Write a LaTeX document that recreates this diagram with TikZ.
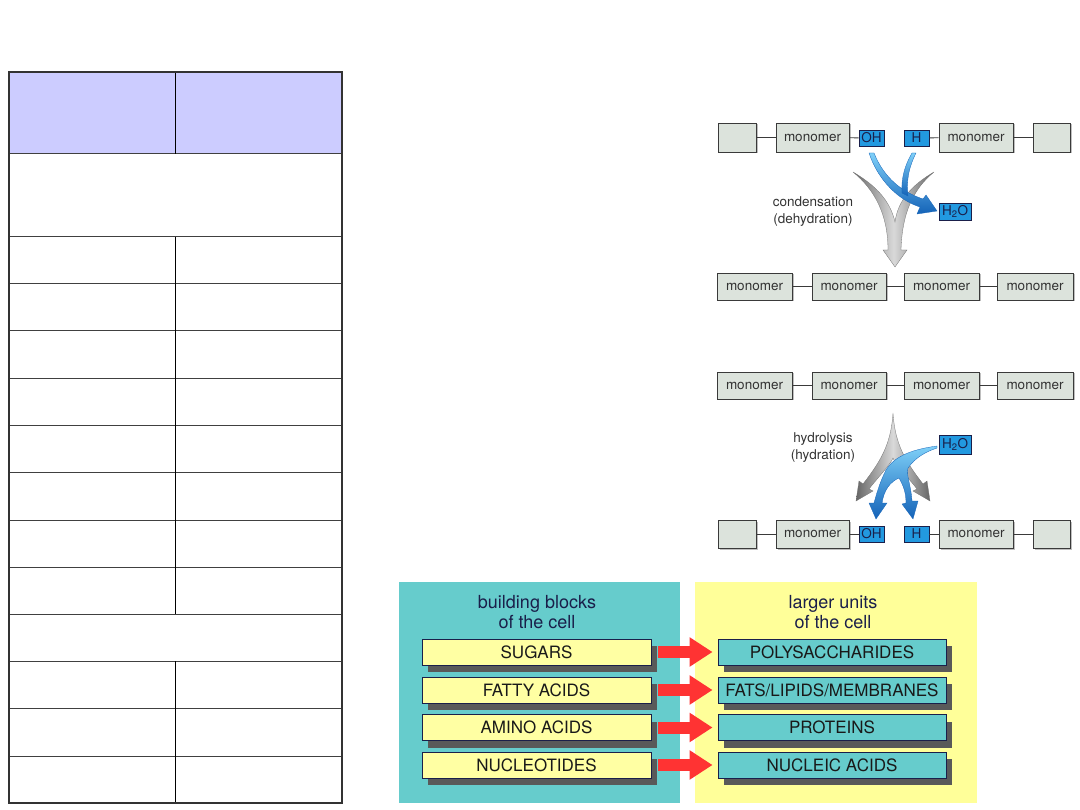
\documentclass[tikz,border=0pt]{standalone}
\usepackage{fontspec}
\setmainfont{TeX Gyre Heros}
\usetikzlibrary{arrows.meta,positioning,shadows}

\definecolor{tblhead}{HTML}{CCCCFF}
\definecolor{monofill}{HTML}{DCE3DC}
\definecolor{monoline}{HTML}{3A3A3A}
\definecolor{bluebox}{HTML}{2299E0}
\definecolor{bluelite}{HTML}{7FD0F8}
\definecolor{bluedark}{HTML}{1463B8}
\definecolor{navy}{HTML}{1A1F4A}
\definecolor{panelcyan}{HTML}{66CCCC}
\definecolor{panelyellow}{HTML}{FFFF99}
\definecolor{blockyellow}{HTML}{FFFFA3}
\definecolor{arrowred}{HTML}{FF3333}

\begin{document}
\begin{tikzpicture}[
  x=1pt,y=-1pt,
  mono/.style={draw=monoline, fill=monofill, line width=0.8pt, inner sep=0pt, minimum height=28pt, font=\fontsize{13.5}{15}\selectfont, text=black!80,
    drop shadow={shadow xshift=1.5pt, shadow yshift=-1.5pt, fill=black!25, opacity=1}},
  grp/.style={draw=navy, fill=bluebox, line width=0.8pt, inner sep=0pt, minimum height=16pt, font=\fontsize{13.5}{15}\selectfont, text=navy},
  link/.style={draw=monoline, line width=0.8pt},
  note/.style={align=center, font=\fontsize{13.5}{17}\selectfont, text=black!80},
  silver/.style={left color=black!60, right color=black!60, middle color=black!15, draw=black!55, line width=0.3pt},
  water/.style={top color=bluelite, bottom color=bluedark, draw=bluedark, line width=0.3pt},
  head/.style={align=center, font=\fontsize{18}{20}\selectfont, text=navy},
  block/.style={draw=navy, line width=0.9pt, inner sep=0pt, minimum width=229pt, minimum height=26pt, font=\fontsize{17}{18}\selectfont, text=black!90,
    drop shadow={shadow xshift=6pt, shadow yshift=-7pt, fill=black!65, opacity=1}},
  fat/.style={draw=arrowred, line width=12pt, shorten <=7pt, shorten >=5pt, -{Triangle[length=23pt, width=28pt]}}
]
\useasboundingbox (0,0) rectangle (1080,810);

% table
\fill[tblhead] (9,72) rectangle (342,154);
\foreach \yy in {154,237,284,331,379,426,473,520,567,614,661,708,756}
  \draw[black!75, line width=1pt] (9,\yy) -- (342,\yy);
\draw[black, line width=1pt] (175,72) -- (175,154) (175,237) -- (175,614) (175,661) -- (175,803);
\draw[black!80, line width=1.6pt] (9,72) rectangle (342,803);

% condensation
\node[mono, minimum width=38pt, minimum height=29pt] (ca1) at (737,137.5) {};
\node[mono, minimum width=73pt, minimum height=29pt] (ca2) at (812.5,137.5) {monomer};
\node[grp, minimum width=25pt] (cOH) at (871.5,138) {OH};
\node[grp, minimum width=25pt] (cH) at (916.5,138) {H};
\node[mono, minimum width=74pt, minimum height=29pt] (ca3) at (976,137.5) {monomer};
\node[mono, minimum width=37pt, minimum height=29pt] (ca4) at (1051.5,137.5) {};
\draw[link] (ca1) -- (ca2); \draw[link] (ca2) -- (cOH); \draw[link] (cH) -- (ca3); \draw[link] (ca3) -- (ca4);

\node[grp, minimum width=32pt, minimum height=17pt] (cwater) at (955,211.5) {H\textsubscript{2}O};
\node[note] (clabel) at (813,212) {condensation\\(dehydration)};

\shade[silver] (853,172) .. controls (875,190) and (888,215) .. (888,250) -- (883,250) -- (895,267) -- (907,250) -- (901,250)
  .. controls (902,215) and (912,190) .. (934,172) .. controls (912,185) and (898,200) .. (895,222)
  .. controls (890,200) and (875,185) .. (853,172) -- cycle;
\shade[water] (869,153) .. controls (878,180) and (898,200) .. (920,207) -- (917,214) -- (937,211) -- (926,195) -- (923,199)
  .. controls (902,192) and (884,178) .. (874,153) -- cycle;
\shade[water] (912,153) .. controls (905,165) and (901,178) .. (902,193) -- (908,196) .. controls (906,178) and (910,165) .. (916,153) -- cycle;

\node[mono, minimum width=75pt, minimum height=27pt] (cb1) at (754.5,286.5) {monomer};
\node[mono, minimum width=74pt, minimum height=27pt] (cb2) at (849,286.5) {monomer};
\node[mono, minimum width=75pt, minimum height=27pt] (cb3) at (941.5,286.5) {monomer};
\node[mono, minimum width=76pt, minimum height=27pt] (cb4) at (1035,286.5) {monomer};
\draw[link] (cb1) -- (cb2); \draw[link] (cb2) -- (cb3); \draw[link] (cb3) -- (cb4);

% hydrolysis
\node[mono, minimum width=75pt, minimum height=27pt] (ha1) at (754.5,385.5) {monomer};
\node[mono, minimum width=74pt, minimum height=27pt] (ha2) at (849,385.5) {monomer};
\node[mono, minimum width=75pt, minimum height=27pt] (ha3) at (941.5,385.5) {monomer};
\node[mono, minimum width=76pt, minimum height=27pt] (ha4) at (1035,385.5) {monomer};
\draw[link] (ha1) -- (ha2); \draw[link] (ha2) -- (ha3); \draw[link] (ha3) -- (ha4);

\node[grp, minimum width=32pt, minimum height=19pt] (hwater) at (955,444.5) {H\textsubscript{2}O};
\node[note] (hlabel) at (823,448) {hydrolysis\\(hydration)};

\shade[silver] (893,413) .. controls (891,445) and (880,462) .. (863,484) -- (859,481) -- (856,501) -- (873,491) -- (869,489)
  .. controls (880,475) and (890,465) .. (893,458) .. controls (896,465) and (906,475) .. (917,489)
  -- (913,491) -- (930,501) -- (927,481) -- (923,484) .. controls (906,462) and (895,445) .. (893,413) -- cycle;
\shade[water] (937,446) .. controls (915,449) and (895,455) .. (886,470) .. controls (880,482) and (877,492) .. (874,503)
  -- (869,503) -- (876,519) -- (887,503) -- (882,503) .. controls (884,490) and (890,482) .. (899,478)
  .. controls (903,485) and (906,492) .. (906,503) -- (902,504) -- (913,519) -- (918,501) -- (912,501)
  .. controls (911,485) and (906,475) .. (908,468) .. controls (915,458) and (925,452) .. (937,448) -- cycle;

\node[mono, minimum width=38pt] (hb1) at (737,534) {};
\node[mono, minimum width=73pt] (hb2) at (812.5,534) {monomer};
\node[grp, minimum width=25pt] (hOH) at (871.5,534) {OH};
\node[grp, minimum width=25pt] (hH) at (916.5,534) {H};
\node[mono, minimum width=74pt] (hb3) at (976,534) {monomer};
\node[mono, minimum width=37pt] (hb4) at (1051.5,534) {};
\draw[link] (hb1) -- (hb2); \draw[link] (hb2) -- (hOH); \draw[link] (hH) -- (hb3); \draw[link] (hb3) -- (hb4);

% building blocks
\fill[panelcyan] (399,582) rectangle (680,803);
\fill[panelyellow] (695,582) rectangle (977,803);
\node[head] (bbhead) at (537,612) {building blocks\\of the cell};
\node[head] (luhead) at (833,612) {larger units\\of the cell};

\node[block, fill=blockyellow] (sugars) at (536.5,652) {SUGARS};
\node[block, fill=blockyellow] (fatty) at (536.5,690) {FATTY ACIDS};
\node[block, fill=blockyellow] (amino) at (536.5,727.5) {AMINO ACIDS};
\node[block, fill=blockyellow] (nucleo) at (536.5,765) {NUCLEOTIDES};
\node[block, fill=panelcyan, minimum width=228pt] (poly) at (832,652) {POLYSACCHARIDES};
\node[block, fill=panelcyan, minimum width=228pt] (fats) at (832,690) {FATS/LIPIDS/MEMBRANES};
\node[block, fill=panelcyan, minimum width=228pt] (prot) at (832,727.5) {PROTEINS};
\node[block, fill=panelcyan, minimum width=228pt] (nucac) at (832,765) {NUCLEIC ACIDS};

\draw[fat] (sugars) -- (poly);
\draw[fat] (fatty) -- (fats);
\draw[fat] (amino) -- (prot);
\draw[fat] (nucleo) -- (nucac);
\end{tikzpicture}
\end{document}
